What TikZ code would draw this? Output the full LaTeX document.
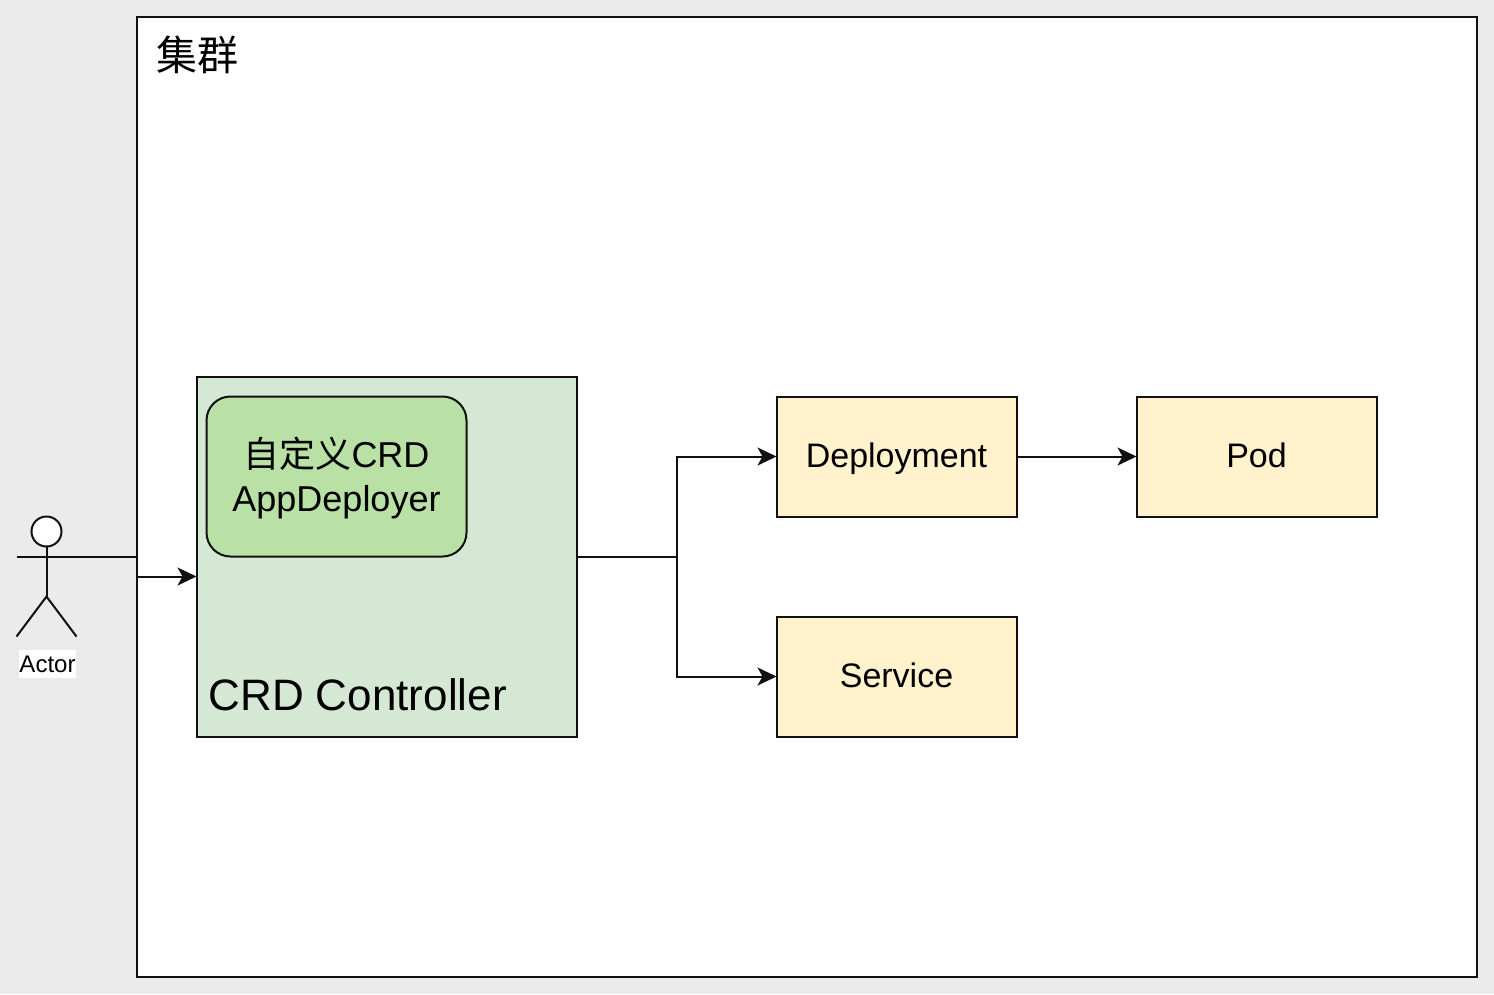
\documentclass[tikz,border=0pt]{standalone}
\usepackage{fontspec}
\setmainfont{Liberation Sans}
\newfontfamily\cjk{Noto Sans CJK SC}
\usetikzlibrary{arrows.meta,calc,positioning}
\definecolor{pagegray}{HTML}{EBEBEB}
\definecolor{ctrlgreen}{HTML}{D5E8D4}
\definecolor{crdgreen}{HTML}{B9E0A5}
\definecolor{resyellow}{HTML}{FFF2CC}
\definecolor{edge}{HTML}{111111}

\begin{document}
\begin{tikzpicture}[x=1pt,y=-1pt,align=center,line width=2pt,draw=edge]
\tikzstyle{box}=[rectangle,draw=edge,line width=2pt,inner sep=0pt,outer sep=0pt,anchor=north west]
\tikzstyle{res}=[box,fill=resyellow,minimum width=240pt,minimum height=120pt,text height=22pt,text depth=0pt,font=\fontsize{34}{40}\selectfont]
\tikzstyle{fixed}=[-,draw=edge,line width=2pt]
\tikzstyle{flow}=[fixed,-{Stealth[length=19pt,width=18pt,inset=5pt]}]

\useasboundingbox[fill=pagegray] (0,0) rectangle (1494,994);

\node[box, fill=white, minimum width=1340pt, minimum height=960pt] (cluster) at (136.5,16.5) {};
\node[anchor=north west, inner sep=0pt, font=\cjk\fontsize{41}{41}\selectfont] (cluster_txt) at (155,35) {集群};

\node[box, fill=ctrlgreen, minimum width=380pt, minimum height=360pt] (ctrl) at (196.5,376.5) {};
\node[box, fill=crdgreen, rounded corners=24pt, minimum width=260pt, minimum height=160pt] (crd) at (206.5,396.5) {};
\node[inner sep=0pt, font=\fontsize{36}{44}\selectfont] (crd_txt) at ($(crd.center)+(0,1.5)$) {{\cjk 自定义}CRD\\AppDeployer};
\node[anchor=west, inner sep=0pt, font=\fontsize{44}{50}\selectfont] (ctrl_txt) at (207.5,695) {CRD Controller};

\node[res] (deploy) at (776.5,396.5) {Deployment};
\node[res] (pod) at (1136.5,396.5) {Pod};
\node[res] (svc) at (776.5,616.5) {Service};

% actor
\node[circle, draw=edge, fill=white, line width=2pt, outer sep=0pt, minimum size=30pt, inner sep=0pt] (head) at (46.5,531.5) {};
\coordinate (hip) at (46.5,596.5);
\coordinate (arm_l) at (16.5,556.5);
\coordinate (arm_r) at (76.5,556.5);
\coordinate (foot_l) at (16.5,636.5);
\coordinate (foot_r) at (76.5,636.5);
\node[fill=white, inner sep=0pt, minimum width=57pt, minimum height=28pt, font=\fontsize{24}{28}\selectfont] (actor_txt) at (47.5,664) {Actor};
\draw[fixed] (head) -- (hip);
\draw[fixed] (arm_l) -- (arm_r);
\draw[fixed] (foot_l) -- (hip) -- (foot_r);

\coordinate (ctrl_in) at (ctrl.west |- 0,576.5);
\coordinate (ctrl_out) at (ctrl.east |- 0,556.5);
\coordinate (fork) at (676.5,556.5);

\draw[flow] (arm_r) -- (cluster.west |- arm_r) -- (cluster.west |- ctrl_in) -- (ctrl_in);
\draw[flow] (ctrl_out) -- (fork) |- (deploy.west);
\draw[flow] (ctrl_out) -- (fork) |- (svc.west);
\draw[flow] (deploy) -- (pod);
\end{tikzpicture}
\end{document}
